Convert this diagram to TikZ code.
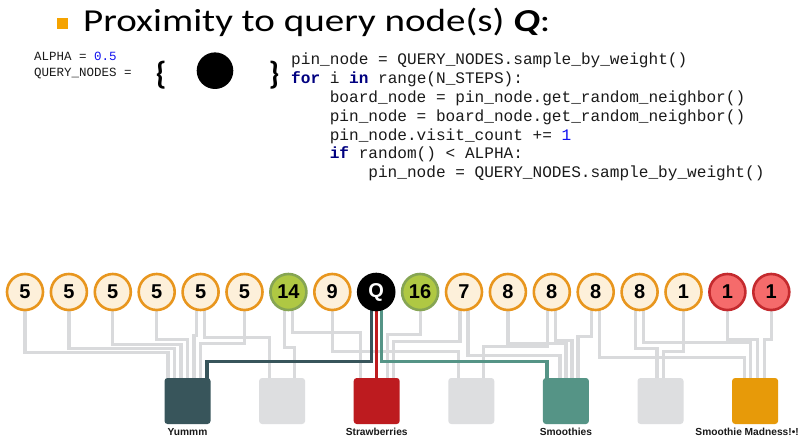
\documentclass[tikz,border=0pt]{standalone}
\usepackage{fontspec}
\setmainfont{Carlito}
\newfontfamily\titlefont[FakeStretch=1.22]{Carlito}
\newfontfamily\codefont{Liberation Mono}
\newfontfamily\labelfont{Liberation Sans}
\usetikzlibrary{calc}

\definecolor{wiregray}{HTML}{D9DADC}
\definecolor{pinedge}{HTML}{E8961E}
\definecolor{pinfill}{HTML}{FDF0DA}
\definecolor{hotedge}{HTML}{86A553}
\definecolor{hotfill}{HTML}{AFC843}
\definecolor{coldedge}{HTML}{C42A2E}
\definecolor{coldfill}{HTML}{F56B6B}
\definecolor{slate}{HTML}{38555B}
\definecolor{boardgray}{HTML}{DDDEE0}
\definecolor{berry}{HTML}{BD1B1F}
\definecolor{teal}{HTML}{559486}
\definecolor{mango}{HTML}{E79A09}
\definecolor{bulletorange}{HTML}{F5A300}
\definecolor{kwnavy}{HTML}{000080}
\definecolor{numblue}{HTML}{1010F0}
\definecolor{codeink}{HTML}{1A1A1A}

\newcommand{\codekw}[1]{\textcolor{kwnavy}{\bfseries #1}}
\newcommand{\codenum}[1]{\textcolor{numblue}{#1}}
% pin -> horizontal level -> board top
\newcommand{\pinwire}[6][wire]{%
  \draw[#1] ($(#2.center)+(#3,0)$) |- ($(#5.north)+(#6,#4-378)$) -- ($(#5.north)+(#6,2)$);}

\pgfdeclarelayer{paper}
\pgfdeclarelayer{graywires}
\pgfdeclarelayer{colorwires}
\pgfsetlayers{paper,graywires,colorwires,main}

\begin{document}
\begin{tikzpicture}[x=1pt,y=-1pt,
  pin/.style={circle, minimum size=36pt, inner sep=0pt, line width=2.6pt,
    draw=pinedge, fill=pinfill, text=black,
    font=\labelfont\bfseries\fontsize{20}{20}\selectfont},
  hotpin/.style={pin, draw=hotedge, fill=hotfill},
  coldpin/.style={pin, draw=coldedge, fill=coldfill},
  querypin/.style={pin, draw=black, fill=black, text=white},
  board/.style={rectangle, rounded corners=3pt, minimum size=46pt, inner sep=0pt},
  boardlabel/.style={anchor=base, inner sep=0pt, text=black!90,
    font=\labelfont\bfseries\fontsize{10.2}{11}\selectfont},
  wire/.style={line width=3.2pt, draw=wiregray},
  slatewire/.style={line width=3.2pt, draw=slate},
  redwire/.style={line width=3.2pt, draw=berry},
  tealwire/.style={line width=3.2pt, draw=teal},
  smallcode/.style={anchor=base west, inner sep=0pt, text=codeink,
    font=\codefont\fontsize{12.5}{14}\selectfont},
  code/.style={anchor=base west, inner sep=0pt, text=codeink,
    font=\codefont\fontsize{16.1}{18}\selectfont},
]
\useasboundingbox (0,0) rectangle (800,446);
\begin{pgfonlayer}{paper}
\fill[white] (0,0) rectangle (800,446);
\end{pgfonlayer}

% heading
\fill[bulletorange] (57,18) rectangle (68,29);
\node[anchor=base west, inner sep=0pt, font=\titlefont\fontsize{32}{36}\selectfont]
  (title) at (83,32) {Proximity to query node(s) \textbf{\textit{Q}}:};

% query set
\node[smallcode] (alpha) at (34,61) {ALPHA = \codenum{0.5}};
\node[smallcode] (qset) at (34,76.5) {QUERY\_NODES =};
\node[inner sep=0pt, font=\bfseries\fontsize{32}{32}\selectfont] (lbrace) at (161,75) {\{};
\node[inner sep=0pt, font=\bfseries\fontsize{32}{32}\selectfont] (rbrace) at (274,75) {\}};
\node[circle, fill=black, minimum size=36.6pt, inner sep=0pt] (qdot) at (215,70.7) {};

% walk
\node[code] (c1) at (291,65) {pin\_node = QUERY\_NODES.sample\_by\_weight()};
\node[code] (c2) at (291,83.8) {\codekw{for} i \codekw{in} range(N\_STEPS):};
\node[code] (c3) at (329.6,102.6) {board\_node = pin\_node.get\_random\_neighbor()};
\node[code] (c4) at (329.6,121.4) {pin\_node = board\_node.get\_random\_neighbor()};
\node[code] (c5) at (329.6,140.2) {pin\_node.visit\_count += \codenum{1}};
\node[code] (c6) at (329.6,159) {\codekw{if} random() < ALPHA:};
\node[code] (c7) at (368.2,177.8) {pin\_node = QUERY\_NODES.sample\_by\_weight()};

% pins with visit counts
\foreach \i/\t/\s in {0/5/pin,1/5/pin,2/5/pin,3/5/pin,4/5/pin,5/5/pin,
    6/14/hotpin,7/9/pin,8/Q/querypin,9/16/hotpin,10/7/pin,11/8/pin,12/8/pin,
    13/8/pin,14/8/pin,15/1/pin,16/1/coldpin,17/1/coldpin}
  \node[\s] (p\i) at (25+43.9*\i,292) {\t};

% boards
\foreach \j/\c in {0/slate,1/boardgray,2/berry,3/boardgray,4/teal,5/boardgray,6/mango}
  \node[board, fill=\c] (b\j) at (187.5+94.6*\j,401) {};
\node[boardlabel] (l0) at ($(b0.south)+(0,11.7)$) {Yummm};
\node[boardlabel] (l2) at ($(b2.south)+(0,11.7)$) {Strawberries};
\node[boardlabel] (l4) at ($(b4.south)+(0,11.7)$) {Smoothies};
\node[boardlabel] (l6) at ($(b6.south)+(-8,11.7)$) {Smoothie Madness!•!};

% pin-board edges
\begin{pgfonlayer}{graywires}
\pinwire{p0}{0}{353}{b0}{-19.5}
\pinwire{p1}{0}{349}{b0}{-13}
\pinwire{p2}{0}{344.5}{b0}{-6.5}
\pinwire{p3}{0}{340}{b0}{0}
\pinwire{p4}{-4}{336}{b0}{6.5}
\pinwire{p5}{0}{344}{b0}{13}
\pinwire{p4}{4}{338}{b1}{-12.5}
\pinwire{p6}{-4}{348}{b1}{12.5}
\pinwire{p6}{4}{333}{b2}{-16.5}
\pinwire{p7}{0}{352}{b3}{-12.5}
\pinwire{p9}{0}{335}{b2}{11}
\pinwire{p10}{-4}{342}{b2}{17}
\pinwire{p10}{4}{356}{b4}{-6}
\pinwire{p11}{0}{344}{b4}{0}
\pinwire{p12}{-4}{347}{b3}{12.5}
\pinwire{p12}{4}{341}{b4}{6}
\pinwire{p13}{-4}{337}{b4}{12}
\pinwire{p13}{4}{358}{b6}{-11}
\pinwire{p14}{-4}{349}{b5}{-3.5}
\pinwire{p14}{4}{343}{b6}{-4.5}
\pinwire{p15}{0}{352}{b5}{3}
\pinwire{p16}{0}{340}{b6}{2}
\pinwire{p17}{0}{340}{b6}{9}
\end{pgfonlayer}

% walks leaving the query pin
\begin{pgfonlayer}{colorwires}
\pinwire[slatewire]{p8}{-5}{362}{b0}{19.5}
\draw[redwire] (p8.center) -- (p8.center |- b2.north);
\pinwire[tealwire]{p8}{5}{362}{b4}{-19}
\end{pgfonlayer}
\end{tikzpicture}
\end{document}
